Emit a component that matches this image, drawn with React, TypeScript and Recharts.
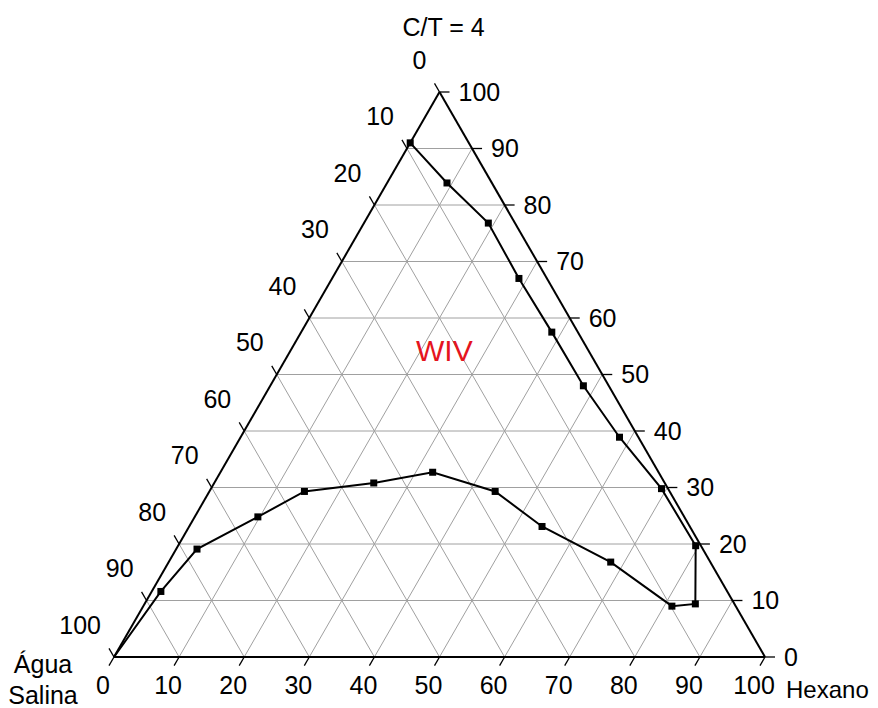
import React from 'react';
import { ComposedChart, XAxis, YAxis, Line, Scatter, ReferenceLine } from 'recharts';

// Binodal curve, ternary composition (%): Hexano (bottom axis), C/T (right axis); Água Salina = 100 - H - C/T
const hexano = [0, 1.4, 3.2, 9.7, 14.6, 24.5, 32.6, 43.9, 54.2, 67.9, 81.2, 84.6, 79.5, 69.2, 58.2, 48.1, 38.5, 28.7, 19.1, 9.2, 0];
const ct = [0, 11.6, 19.1, 24.8, 29.3, 30.8, 32.7, 29.3, 23.1, 16.8, 9.0, 9.4, 19.7, 29.8, 38.9, 48.0, 57.5, 67.0, 76.8, 83.9, 91.0];

const tickValues = [0, 10, 20, 30, 40, 50, 60, 70, 80, 90, 100];
const hexanoTickLabels = ['0', '10', '20', '30', '40', '50', '60', '70', '80', '90', '100'];
const ctTickLabels = ['0', '10', '20', '30', '40', '50', '60', '70', '80', '90', '100'];
const aguaTickLabels = ['0', '10', '20', '30', '40', '50', '60', '70', '80', '90', '100'];
const gridValues = [10, 20, 30, 40, 50, 60, 70, 80, 90];

const title = 'C/T = 4';
const regionLabel = 'WIV';
const regionHexano = 23.6;
const regionCT = 54.3;
const aguaName = ['Água', 'Salina'];
const hexanoName = 'Hexano';

const FONT = '"Liberation Sans", Arial, sans-serif';

// ternary -> cartesian (x: 0..100 along base, y: C/T percent as height)
const tx = (h: number, t: number) => h + t / 2;

const curve = hexano.map((h, i) => ({ x: tx(h, ct[i]), y: ct[i] }));

type Seg = [{ x: number; y: number }, { x: number; y: number }];

const gridSegs: Seg[] = [];
gridValues.forEach((k) => {
  gridSegs.push([{ x: tx(0, k), y: k }, { x: tx(100 - k, k), y: k }]);
  gridSegs.push([{ x: tx(k, 0), y: 0 }, { x: tx(k, 100 - k), y: 100 - k }]);
  gridSegs.push([{ x: tx(100 - k, 0), y: 0 }, { x: tx(0, 100 - k), y: 100 - k }]);
});

const edgeSegs: Seg[] = [
  [{ x: 0, y: 0 }, { x: 100, y: 0 }],
  [{ x: 0, y: 0 }, { x: 50, y: 100 }],
  [{ x: 100, y: 0 }, { x: 50, y: 100 }],
];

// tick length ~10px: 1px = 100/651 in x, 100/565 in y
const TX = 10 * 100 / 651;
const TY = 10 * 100 / 565;
const tickSegs: Seg[] = [];
tickValues.forEach((k) => {
  tickSegs.push([{ x: k, y: 0 }, { x: k - TX * 0.5, y: -TY * 0.866 }]);
  tickSegs.push([{ x: tx(100 - k, k), y: k }, { x: tx(100 - k, k) + TX, y: k }]);
  tickSegs.push([{ x: tx(0, 100 - k), y: 100 - k }, { x: tx(0, 100 - k) - TX * 0.5, y: 100 - k + TY * 0.866 }]);
});

const bottomLabelData = tickValues.map((k, i) => ({ x: k, y: 0, label: hexanoTickLabels[i] }));
const rightLabelData = tickValues.map((k, i) => ({ x: tx(100 - k, k), y: k, label: ctTickLabels[i] }));
const leftLabelData = tickValues.map((k, i) => ({ x: tx(0, 100 - k), y: 100 - k, label: aguaTickLabels[i] }));

const textStyle = { fontFamily: FONT, fontSize: 25, fill: '#000' };

const BottomLabel = (p: any) => (
  <text x={p.cx - 11} y={p.cy + 28} dy="0.35em" textAnchor="middle" style={textStyle}>
    {p.payload.label}
  </text>
);
const RightLabel = (p: any) => (
  <text x={p.cx + 19} y={p.cy} dy="0.35em" textAnchor="start" style={textStyle}>
    {p.payload.label}
  </text>
);
const LeftLabel = (p: any) => (
  <text x={p.cx - 13} y={p.cy - 32} dy="0.35em" textAnchor="end" style={textStyle}>
    {p.payload.label}
  </text>
);
const TitleLabel = (p: any) => (
  <text x={p.cx + 4} y={p.cy - 65} dy="0.35em" textAnchor="middle" style={textStyle}>
    {title}
  </text>
);
const AguaLabel = (p: any) => (
  <g>
    <text x={p.cx - 71} y={p.cy + 7} dy="0.35em" textAnchor="middle" style={textStyle}>
      {aguaName[0]}
    </text>
    <text x={p.cx - 71} y={p.cy + 38} dy="0.35em" textAnchor="middle" style={textStyle}>
      {aguaName[1]}
    </text>
  </g>
);
const HexanoLabel = (p: any) => (
  <text x={p.cx + 21} y={p.cy + 33} dy="0.35em" textAnchor="start" style={{ ...textStyle, fontSize: 24 }}>
    {hexanoName}
  </text>
);
const RegionLabel = (p: any) => (
  <text x={p.cx} y={p.cy} dy="0.35em" textAnchor="middle" style={{ fontFamily: FONT, fontSize: 30, fill: '#e5141e' }}>
    {regionLabel}
  </text>
);

const SquareDot = (p: any) => {
  if (p.index === 0) return <g key={`d${p.index}`} />;
  return <rect key={`d${p.index}`} x={p.cx - 3.5} y={p.cy - 3.5} width={7} height={7} fill="#000" />;
};

export default function App() {
  return (
    <ComposedChart
      width={870}
      height={700}
      margin={{ top: 84, right: 113, bottom: 51, left: 106 }}
      style={{ background: '#fff', overflow: 'visible' }}
    >
      <XAxis type="number" dataKey="x" domain={[0, 100]} hide />
      <YAxis type="number" dataKey="y" domain={[0, 100]} hide />
      {gridSegs.map((s, i) => (
        <ReferenceLine key={`g${i}`} segment={s} stroke="#a0a0a0" strokeWidth={1} ifOverflow="visible" />
      ))}
      {tickSegs.map((s, i) => (
        <ReferenceLine key={`t${i}`} segment={s} stroke="#000" strokeWidth={1.3} ifOverflow="visible" />
      ))}
      {edgeSegs.map((s, i) => (
        <ReferenceLine key={`e${i}`} segment={s} stroke="#000" strokeWidth={2} ifOverflow="visible" />
      ))}
      <Line
        data={curve}
        dataKey="y"
        type="linear"
        stroke="#000"
        strokeWidth={2}
        dot={SquareDot}
        activeDot={false}
        isAnimationActive={false}
      />
      <Scatter data={bottomLabelData} dataKey="y" shape={BottomLabel} isAnimationActive={false} />
      <Scatter data={rightLabelData} dataKey="y" shape={RightLabel} isAnimationActive={false} />
      <Scatter data={leftLabelData} dataKey="y" shape={LeftLabel} isAnimationActive={false} />
      <Scatter data={[{ x: 50, y: 100 }]} dataKey="y" shape={TitleLabel} isAnimationActive={false} />
      <Scatter data={[{ x: 0, y: 0 }]} dataKey="y" shape={AguaLabel} isAnimationActive={false} />
      <Scatter data={[{ x: 100, y: 0 }]} dataKey="y" shape={HexanoLabel} isAnimationActive={false} />
      <Scatter
        data={[{ x: tx(regionHexano, regionCT), y: regionCT }]}
        dataKey="y"
        shape={RegionLabel}
        isAnimationActive={false}
      />
    </ComposedChart>
  );
}
